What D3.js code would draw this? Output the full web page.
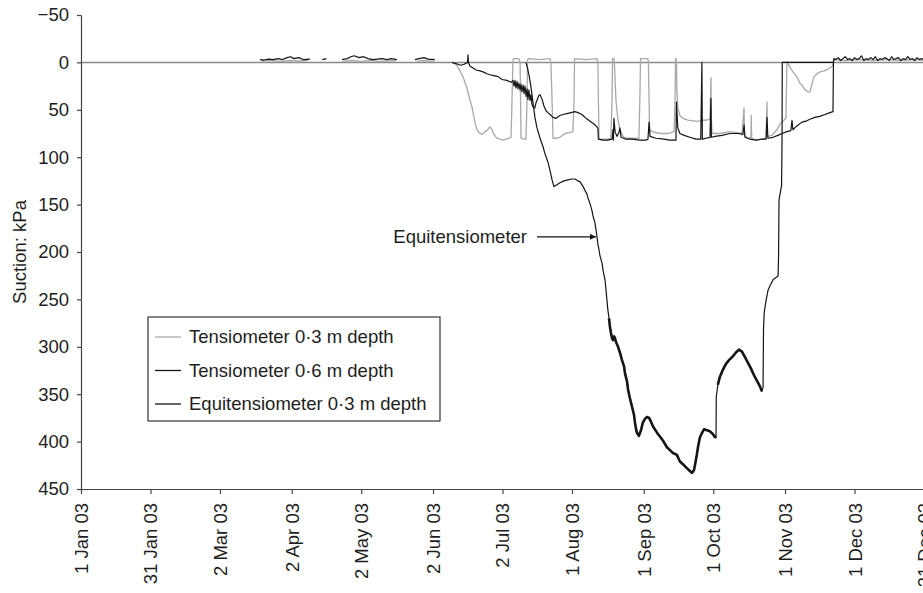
<!DOCTYPE html>
<html>
<head>
<meta charset="utf-8">
<script src="https://cdn.jsdelivr.net/npm/d3@7"></script>
<style>
  body { margin: 0; background: #fff; }
  svg { display: block; font-family: "Liberation Sans", Arial, sans-serif; }
</style>
</head>
<body>
<svg id="chart" width="923" height="593"></svg>
<script>
// ---- Data: [day of 2003 (0 = 1 Jan), suction kPa]; null breaks the trace ----
const yTickValues = [-50, 0, 50, 100, 150, 200, 250, 300, 350, 400, 450];
const xTickDates = ["2003-01-01", "2003-01-31", "2003-03-02", "2003-04-02", "2003-05-02", "2003-06-02",
                    "2003-07-02", "2003-08-01", "2003-09-01", "2003-10-01", "2003-11-01", "2003-12-01", "2003-12-31"];
const seriesNames = ["Tensiometer 0·3 m depth", "Tensiometer 0·6 m depth", "Equitensiometer 0·3 m depth"];

const tens03 = [
  [78,-1.5],[82,-2],[86,-1],[90,-2],[94,-1.5],[98,-2],[99,null],
  [113,-1],[117,-2],[121,-1],[125,-2],[129,-1],[133,-1.5],[136,-2],[137,null],
  [145,-1],[148,-2],[152.5,-1],[153,null],
  [160.6,0],[161.9,2],[162.8,5],[163.6,9],[164.5,13],[165.4,18],[165.8,22],[166.7,27],[167.1,32],
  [168.0,40],[168.8,47],[169.3,53],[170.1,63],[170.6,68],[171.0,71],[171.9,74],[173.1,76],[174.4,73],
  [175.3,72],[176.2,69],[176.6,68],[177.5,71],[178.3,76],[179.6,80],[180.9,81],[182.2,82],[183.5,81],
  [184.8,80],[185.7,79],[186.1,40],[186.5,0],[186.7,-4],[189.1,-4],[189.6,0],[189.8,40],[190.0,80],
  [191.3,81],[192.1,81],[192.6,40],[192.8,-3],[193.4,-4],[198,-3],[202.5,-4],[202.9,0],[203.4,40],
  [203.8,80],[205.1,80],[206.8,79],[209.0,75],[211.1,74],[212.4,73],[212.9,40],[213.1,-4],[218,-3],
  [222.8,-4],[223.2,0],[223.4,40],[223.7,81],[225.8,81],[227.5,81],[228.8,80],[229.3,40],[229.5,-4],
  [230.1,-4],[230.3,0],[231.0,40],[231.4,50],[231.9,61],[232.7,71],[234.0,78],[235.3,80],[237.9,80],
  [240.9,80],[241.3,40],[241.6,-4],[244.8,-4],[245.0,0],[245.3,40],[245.5,71],[246.6,73],[250.0,75],
  [253.5,75],[256.1,73],[256.5,40],[256.7,-4],[256.9,-4],[257.1,0],[257.3,29],[257.7,48],[258.6,56],
  [259.9,59],[262.0,61],[265.1,62],[267.2,62],[268.1,61],[269.8,61],[271.6,60],[272.0,16],[272.2,61],
  [272.5,75],[275.9,75],[280.2,73],[285.4,75],[286.3,48],[286.5,77],[288.0,80],[289.3,79],[289.4,56],
  [289.6,80],[291.5,82],[294.0,81],[295.8,80],[296.2,42],[296.4,78],[298.4,77],[300.5,71],[301.8,65],
  [302.7,63],[304.0,60],[304.4,58],[304.8,1],[305.3,1],[306.1,5],[307.4,10],[309.1,15],[310.4,22],
  [311.3,24],[312.6,29],[313.9,31],[314.8,31],[315.6,23],[316.5,15],[317.8,12],[319.1,10],[320.8,9],
  [322.6,7],[323.9,5],[324.7,3],[325.1,-3],[330,-2],[336,-3],[342,-2],[348,-3],[354,-2],[360,-3],[364,-2]
];

const tens06 = [
  [77.3,-3],[79,-2.5],[81,-3.5],[83,-3],[85,-4],[87,-3],[89,-5],[90.5,-6],[92,-4],[94,-5],[96,-3],[98.9,-3.5],[99.2,null],
  [104.2,-3],[106,-4],[106.3,null],
  [112.7,-3],[115,-4],[116.5,-6],[118,-7],[120,-5],[122,-6],[124,-4],[126,-3],[128,-3.5],[130,-4],[132,-3],[134,-4],[136.4,-3],[136.7,null],
  [144.2,-3],[146,-4],[148,-5],[150,-3.5],[152.8,-3],[153.1,null],
  [160.2,0],[161.5,1],[162.8,2],[164.1,3],[165.4,2],[166.2,1],[166.9,0],[167.1,-8],[167.3,0],[168.0,4],
  [169.3,6],[170.6,8],[172.3,9],[173.6,10],[175.3,12],[176.6,13],[178.3,14],[180.1,15],[181.8,18],
  [183.9,19],[185.7,21],[186.5,19],[187.0,25],[187.4,19],[187.8,27],[188.3,20],[188.7,28],[189.1,22],
  [189.6,29],[190.0,23],[190.4,31],[190.9,24],[191.3,33],[191.7,25],[192.2,36],[192.6,28],[193.0,39],
  [193.4,29],[193.9,40],[194.3,34],[194.7,44],[195.2,47],[196.0,48],[196.4,43],[196.9,40],[197.7,35],
  [198.2,34],[199.1,39],[199.9,46],[200.8,51],[201.6,53],[202.5,55],[203.8,58],[205.1,59],[206.8,56],
  [208.1,55],[209.8,54],[211.6,53],[213.3,52],[214.6,53],[216.3,55],[218.1,59],[219.8,62],[221.5,65],
  [222.8,68],[223.2,70],[223.4,81],[225.3,82],[227.5,82],[229.3,81],[229.7,71],[229.9,82],[230.1,59],
  [230.6,73],[231.4,78],[232.3,74],[232.7,69],[233.2,79],[235.3,81],[237.9,81],[241.3,82],[243.9,82],
  [244.8,81],[245.3,63],[245.7,78],[248.3,80],[251.7,81],[254.3,82],[256.9,82],[257.1,42],[257.7,69],
  [258.6,75],[260.4,77],[262.9,79],[265.5,81],[267.6,81],[268.1,0],[268.3,81],[269.8,80],[271.6,79],
  [272.0,38],[272.2,79],[273.8,78],[276.8,77],[280.2,75],[283.7,75],[285.8,76],[286.3,66],[286.7,79],
  [288.8,81],[291.5,82],[294.0,81],[295.8,81],[296.2,58],[296.6,80],[298.8,79],[300.9,77],[302.7,75],
  [304.8,73],[306.5,72],[307.0,61],[307.4,71],[309.1,67],[311.3,63],[313.0,62],[314.7,60],[316.9,58],
  [319.0,57],[321.2,55],[323.4,53],[324.7,52],[324.9,0],[325.1,-4],
  [326,-3],[327,-5],[328,-2],[329,-4],[330,-6],[331,-3],[332,-4],[333,-2],[334,-5],[335,-3],[336,-4],
  [337,-7],[338,-2],[339,-4],[340,-3],[341,-5],[342,-3],[343,-6],[344,-2],[345,-4],[346,-3],[347,-5],
  [348,-4],[349,-2],[350,-6],[351,-3],[352,-4],[353,-5],[354,-2],[355,-4],[356,-3],[357,-6],[358,-3],
  [359,-4],[360,-2],[361,-5],[362,-3],[363,-4],[364,-3]
];

const equi03 = [
  [192.1,0],[192.8,6],[193.4,13],[194.3,26],[195.2,43],[196.0,58],[196.9,69],[198.2,80],[199.5,89],
  [200.3,96],[201.6,105],[202.5,114],[203.4,124],[204.2,131],[205.5,129],[206.8,127],[208.6,125],
  [210.3,124],[212.0,123],[213.3,123],[214.6,125],[215.5,126],[216.8,131],[217.6,135],[218.5,139],
  [218.9,143],[219.8,149],[220.6,156],[221.1,162],[221.9,169],[222.4,177],[222.8,184],[223.2,192],
  [223.7,198],[224.1,204],[225.0,212],[225.4,219],[226.3,230],[226.7,240],[227.1,251],[227.5,261],
  [228.0,270],[228.4,279],[228.8,285],[229.3,291],[229.7,293],[230.2,289],[230.6,291],[231.0,295],
  [231.9,300],[232.7,306],[233.6,314],[234.5,321],[234.9,328],[235.8,337],[236.2,345],[237.0,354],
  [237.9,363],[238.8,372],[239.2,380],[239.6,386],[240.1,391],[240.9,394],[241.8,388],[242.6,380],
  [243.5,376],[244.4,374],[245.3,375],[246.1,379],[247.0,384],[248.3,389],[249.1,392],[250.4,396],
  [251.3,399],[253.0,406],[254.3,409],[255.6,412],[257.3,414],[258.6,421],[260.4,425],[261.6,428],
  [262.9,431],[263.8,433],[264.7,430],[265.1,425],[265.9,414],[266.4,406],[267.2,396],[268.1,391],
  [269.0,387],[270.3,388],[271.5,389],[272.8,392],[273.7,395],[274.2,396],[274.3,353],[275.0,340],
  [275.8,332],[277.2,324],[278.5,318],[279.8,314],[281.5,310],[282.8,306],[284.1,303],[285.4,305],
  [286.7,311],[288.0,317],[289.3,323],[290.6,330],[291.9,336],[293.2,342],[294.0,347],[294.5,343],
  [294.7,282],[295.0,264],[295.8,251],[296.7,240],[297.6,235],[298.9,229],[300.1,227],[301.0,225],
  [301.2,205],[301.4,145],[301.9,138],[302.5,130],[302.7,82],[302.8,0],[310,0],[318,0],[325,0]
];

// stretch of the equitensiometer record where readings scatter most (drawn heavier)
const equiNoisyDays = [[228, 274.2], [275, 294.2]];

// annotation on the equitensiometer trace
const annotationLabel = "Equitensiometer";
const annotationPoint = [222.8, 184];

// ---- Layout ----
const svg = d3.select("#chart");
const start = Date.UTC(2003, 0, 1);
const toDate = day => new Date(start + day * 864e5);

const x = d3.scaleUtc()
  .domain([new Date(start), new Date(Date.UTC(2003, 11, 31))])
  .range([81, 924]);
const y = d3.scaleLinear().domain([-50, 450]).range([15, 489]);

const fontSize = 18.5;
const ink = "#1e1e1e";
const fontFamily = "Liberation Sans, Arial, sans-serif";

// zero reference line
svg.append("line")
  .attr("x1", x.range()[0]).attr("x2", x.range()[1])
  .attr("y1", y(0)).attr("y2", y(0))
  .attr("stroke", "#8a8a8a").attr("stroke-width", 1.5);

// y axis
const yAxis = svg.append("g")
  .attr("transform", `translate(${x.range()[0]},0)`)
  .call(d3.axisLeft(y).tickValues(yTickValues).tickSize(4).tickSizeOuter(0).tickPadding(8)
    .tickFormat(d => d < 0 ? "\u2212" + Math.abs(d) : String(d)));
yAxis.select(".domain").attr("stroke", "#444").attr("stroke-width", 1.2);
yAxis.selectAll(".tick line").attr("stroke", "#444").attr("stroke-width", 1.2);
yAxis.selectAll("text").attr("font-size", fontSize).attr("fill", ink).attr("font-family", fontFamily);

// x axis along the bottom
const xAxis = svg.append("g")
  .attr("transform", `translate(0,${y.range()[1]})`)
  .call(d3.axisBottom(x).tickValues(xTickDates.map(s => new Date(s + "T00:00:00Z")))
    .tickSize(5).tickSizeOuter(0).tickFormat(d3.utcFormat("%-d %b %y")));
xAxis.select(".domain").attr("stroke", "#444").attr("stroke-width", 1.2);
xAxis.selectAll(".tick line").attr("stroke", "#444").attr("stroke-width", 1.2);
xAxis.selectAll("text")
  .attr("font-size", fontSize).attr("fill", ink).attr("font-family", fontFamily)
  .attr("transform", "rotate(-90)")
  .attr("text-anchor", "end")
  .attr("x", -14).attr("y", 0).attr("dy", "0.35em");

// y axis title
svg.append("text")
  .attr("transform", `translate(20,${(y.range()[0] + y.range()[1]) / 2}) rotate(-90)`)
  .attr("text-anchor", "middle").attr("dy", "0.35em")
  .attr("font-size", fontSize).attr("fill", ink)
  .text("Suction: kPa");

// ---- Series ----
const line = d3.line()
  .defined(d => d[1] !== null)
  .x(d => x(toDate(d[0])))
  .y(d => y(d[1]));

const styles = [
  { data: tens03, color: "#a8a8a8", width: 1.3 },
  { data: tens06, color: "#151515", width: 1.2 },
  { data: equi03, color: "#151515", width: 1.2 }
];
styles.forEach(s => {
  svg.append("path").datum(s.data)
    .attr("fill", "none").attr("stroke", s.color).attr("stroke-width", s.width)
    .attr("stroke-linejoin", "round").attr("d", line);
});

// heavier stroke where the equitensiometer readings scatter
equiNoisyDays.forEach(([a, b]) => {
  svg.append("path").datum(equi03.filter(d => d[0] >= a && d[0] <= b))
    .attr("fill", "none").attr("stroke", "#151515").attr("stroke-width", 2.6)
    .attr("stroke-linejoin", "round").attr("d", line);
});

// annotation arrow
const tipX = x(toDate(annotationPoint[0])), tipY = y(annotationPoint[1]);
svg.append("defs").append("marker")
  .attr("id", "arrow").attr("viewBox", "0 0 10 10").attr("refX", 10).attr("refY", 5)
  .attr("markerWidth", 9).attr("markerHeight", 6).attr("markerUnits", "userSpaceOnUse")
  .attr("orient", "auto")
  .append("path").attr("d", "M0,0 L10,5 L0,10 Z").attr("fill", "#151515");
svg.append("line")
  .attr("x1", tipX - 60).attr("x2", tipX - 1).attr("y1", tipY).attr("y2", tipY)
  .attr("stroke", "#151515").attr("stroke-width", 1.3).attr("marker-end", "url(#arrow)");
svg.append("text")
  .attr("x", tipX - 70).attr("y", tipY).attr("dy", "0.35em")
  .attr("text-anchor", "end").attr("font-size", fontSize).attr("fill", ink)
  .text(annotationLabel);

// ---- Legend ----
const legend = svg.append("g").attr("transform", "translate(148,317)");
legend.append("rect").attr("width", 292).attr("height", 104)
  .attr("fill", "#fff").attr("stroke", "#222").attr("stroke-width", 1.1);
seriesNames.forEach((name, i) => {
  const row = legend.append("g").attr("transform", `translate(0,${20 + i * 33.5})`);
  row.append("line").attr("x1", 7).attr("x2", 33)
    .attr("stroke", styles[i].color).attr("stroke-width", 1.3);
  row.append("text").attr("x", 41).attr("dy", "0.35em")
    .attr("font-size", fontSize).attr("fill", ink).text(name);
});
</script>
</body>
</html>
